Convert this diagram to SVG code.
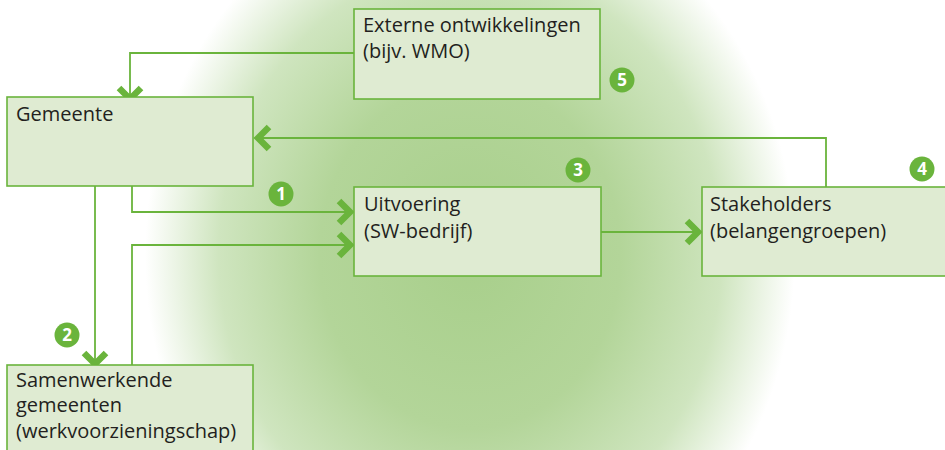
<svg xmlns="http://www.w3.org/2000/svg" width="945" height="450" viewBox="0 0 945 450">
  <defs>
    <radialGradient id="glow" gradientUnits="userSpaceOnUse" cx="470" cy="255" r="335" gradientTransform="translate(470 255) scale(1 1.15) translate(-470 -255)">
      <stop offset="0" stop-color="#a8cf8b"/>
      <stop offset="0.45" stop-color="#b3d599"/>
      <stop offset="0.75" stop-color="#cfe5bf"/>
      <stop offset="0.97" stop-color="#ffffff"/>
    </radialGradient>
  </defs>
  <style>
    .box { fill: #dfebd2; stroke: #6ab43c; stroke-width: 1.6; }
    .lbl { font-family: "Open Sans", "Noto Sans", "Liberation Sans", sans-serif; font-size: 20px; fill: #231f20; }
    .line { fill: none; stroke: #6ab43c; stroke-width: 1.8; }
    .chev { fill: none; stroke: #6ab43c; stroke-width: 6.5; stroke-linejoin: miter; }
    .badge { fill: #6ab43c; }
    .num { font-family: "Open Sans", "Noto Sans", "Liberation Sans", sans-serif; font-size: 17px; font-weight: bold; fill: #ffffff; text-anchor: middle; }
  </style>

  <rect width="945" height="450" fill="#ffffff"/>
  <rect width="945" height="450" fill="url(#glow)"/>

  <g id="connectors">
    <!-- Externe ontwikkelingen -> Gemeente -->
    <path class="line" d="M354,53 H130 V99"/>
    <polyline class="chev" points="119,88 130,99 141,88"/>
    <!-- Stakeholders -> Gemeente -->
    <path class="line" d="M826,187 V138 H258"/>
    <polyline class="chev" points="269,127 258,138 269,149"/>
    <!-- Gemeente -> Uitvoering -->
    <path class="line" d="M132,186 V212 H350"/>
    <polyline class="chev" points="339,201 350,212 339,223"/>
    <!-- Gemeente -> Samenwerkende gemeenten -->
    <path class="line" d="M95,186 V364"/>
    <polyline class="chev" points="84,353 95,364 106,353"/>
    <!-- Samenwerkende gemeenten -> Uitvoering -->
    <path class="line" d="M132,365 V245 H350"/>
    <polyline class="chev" points="339,234 350,245 339,256"/>
    <!-- Uitvoering -> Stakeholders -->
    <path class="line" d="M601,232 H698"/>
    <polyline class="chev" points="687,221 698,232 687,243"/>
  </g>

  <g id="externe">
    <rect class="box" x="354" y="9" width="246" height="90"/>
    <text class="lbl" x="363" y="32">Externe ontwikkelingen</text>
    <text class="lbl" x="363" y="58">(bijv. WMO)</text>
  </g>

  <g id="gemeente">
    <rect class="box" x="7" y="97" width="246" height="89"/>
    <text class="lbl" x="16" y="121">Gemeente</text>
  </g>

  <g id="uitvoering">
    <rect class="box" x="354" y="187" width="247" height="89"/>
    <text class="lbl" x="364" y="211">Uitvoering</text>
    <text class="lbl" x="364" y="238">(SW-bedrijf)</text>
  </g>

  <g id="stakeholders">
    <rect class="box" x="702" y="187" width="250" height="89"/>
    <text class="lbl" x="710" y="211">Stakeholders</text>
    <text class="lbl" x="710" y="238">(belangengroepen)</text>
  </g>

  <g id="samenwerkende">
    <rect class="box" x="7" y="365" width="246" height="100"/>
    <text class="lbl" x="16" y="387">Samenwerkende</text>
    <text class="lbl" x="16" y="412">gemeenten</text>
    <text class="lbl" x="16" y="438">(werkvoorzieningschap)</text>
  </g>

  <g id="badges">
    <circle class="badge" cx="281" cy="194" r="12.5"/>
    <text class="num" x="281" y="200">1</text>
    <circle class="badge" cx="67" cy="335" r="12.5"/>
    <text class="num" x="67" y="341">2</text>
    <circle class="badge" cx="578" cy="170" r="12.5"/>
    <text class="num" x="578" y="176">3</text>
    <circle class="badge" cx="922" cy="169" r="12.5"/>
    <text class="num" x="922" y="175">4</text>
    <circle class="badge" cx="622" cy="80" r="12.5"/>
    <text class="num" x="622" y="86">5</text>
  </g>
</svg>
